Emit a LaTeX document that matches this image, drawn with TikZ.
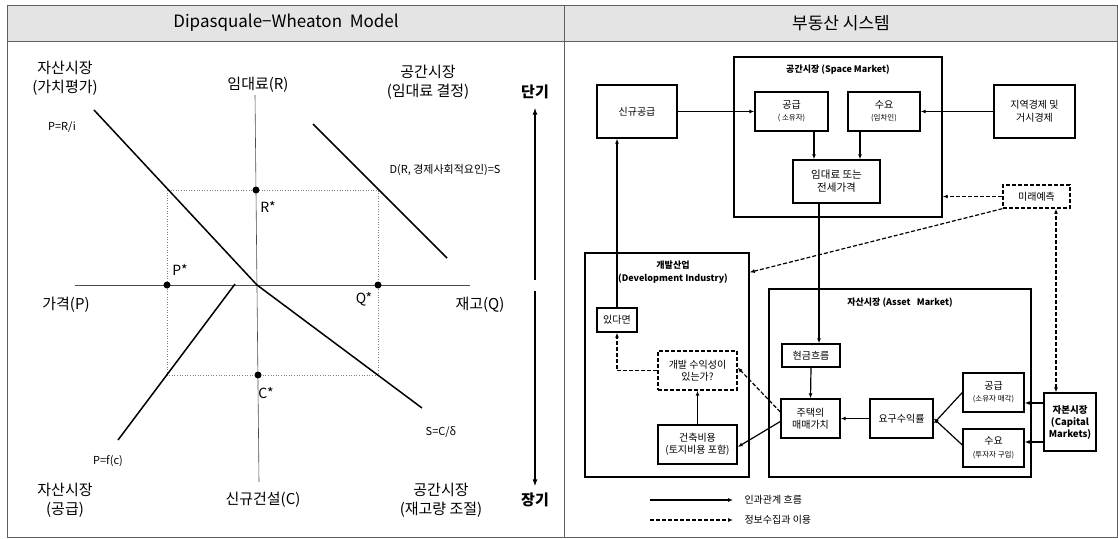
\documentclass[tikz,border=0pt]{standalone}
\usepackage{fontspec}
\setmainfont{Noto Sans CJK KR}
\usetikzlibrary{arrows.meta,positioning}
\definecolor{hdrgray}{RGB}{228,228,228}
\definecolor{framegray}{RGB}{95,95,95}
\tikzset{
  box/.style={draw, line width=1.4pt, align=center, inner sep=1pt, font=\fontsize{10}{12.5}\selectfont},
  dbox/.style={box, dash pattern=on 4pt off 2pt},
  frame/.style={draw, line width=1.4pt, inner sep=0pt},
  ttl/.style={font=\bfseries\fontsize{9}{12}\selectfont, align=center},
  arr/.style={-{Latex[length=5pt,width=4pt]}, line width=1.2pt},
  darr/.style={arr, dash pattern=on 4pt off 2pt},
  big/.style={font=\fontsize{15}{19}\selectfont, align=center},
  small/.style={font=\fontsize{11}{13}\selectfont},
  starlbl/.style={font=\fontsize{14}{16}\selectfont},
  curve/.style={line width=1.5pt},
  axis/.style={gray!60!black, line width=0.6pt},
  dot/.style={circle, fill, inner sep=0pt, minimum size=7pt},
}
\newcommand{\subtxt}[1]{{\fontsize{7.5}{9}\selectfont #1}}

\begin{document}
\begin{tikzpicture}[x=1pt, y=-1pt]
 \useasboundingbox (0,0) rectangle (1118,538);
 % frame and headers
 \fill[hdrgray] (7,5) rectangle (1117,41);
 \draw[framegray, line width=0.8pt] (7,5) rectangle (1117,537);
 \draw[framegray, line width=0.8pt] (7,41) -- (1117,41);
 \draw[framegray, line width=0.8pt] (564,5) -- (564,537);
 \node[font=\fontsize{17}{20}\selectfont] (ltitle) at (286,23) {Dipasquale−Wheaton\ \ Model};
 \node[font=\fontsize{17}{20}\selectfont] (rtitle) at (841,23) {부동산\ 시스템};

 % ---- left: four quadrant model
 \draw[axis] (255,95) -- (259,482);
 \draw[axis] (75,285) -- (470,285);
 \draw[gray, dotted, line width=0.6pt] (167,190) rectangle (378,375);
 \draw[curve] (94,110) -- (257,285) -- (422,408);
 \draw[curve] (313,124) -- (447,258);
 \draw[curve] (235,284) -- (118,440);
 \node[dot] (rstar) at (256,190) {};
 \node[dot] (pstar) at (167,285) {};
 \node[dot] (qstar) at (378,285) {};
 \node[dot] (cstar) at (258,375) {};
 \node[starlbl] (rlbl) at (268,207) {R*};
 \node[starlbl] (plbl) at (180,270) {P*};
 \node[starlbl] (qlbl) at (364,299) {Q*};
 \node[starlbl] (clbl) at (266,393) {C*};
 \node[big] (assetval) at (65,78) {자산시장\\(가치평가)};
 \node[big] (rentax) at (258,85) {임대료(R)};
 \node[big] (spacerent) at (428,82) {공간시장\\(임대료 결정)};
 \node[big] (priceax) at (66,305) {가격(P)};
 \node[big] (stockax) at (480,305) {재고(Q)};
 \node[big] (assetsup) at (65,500) {자산시장\\(공급)};
 \node[big] (constax) at (263,500) {신규건설(C)};
 \node[big] (spacestock) at (441,500) {공간시장\\(재고량 조절)};
 \node[small] (preq) at (62,127) {P=R/i};
 \node[small] (dreq) at (445,170) {D(R, 경제사회적요인)=S};
 \node[small] (sreq) at (441,432) {S=C/δ};
 \node[small] (pfc) at (108,461) {P=f(c)};
 \node[big, font=\bfseries\fontsize{15}{19}\selectfont] (shortrun) at (535,92) {단기};
 \node[big, font=\bfseries\fontsize{15}{19}\selectfont] (longrun) at (535,500) {장기};
 \coordinate (mid) at (535,285);
 \draw[-{Latex[length=7pt,width=5pt]}, line width=1.5pt] ([yshift=5]mid) -- ([yshift=-5]shortrun.south);
 \draw[-{Latex[length=7pt,width=5pt]}, line width=1.5pt] ([yshift=-6]mid) -- ([yshift=3]longrun.north);

 % ---- right: real estate system
 \node[frame, minimum width=208, minimum height=160] (space) at (838,137) {};
 \node[ttl] (spacettl) at (838,70) {공간시장 (Space Market)};
 \node[frame, minimum width=164, minimum height=224] (dev) at (667,365) {};
 \node[ttl, font=\bfseries\fontsize{9}{13}\selectfont] (devttl) at (673,272) {개발산업\\(Development Industry)};
 \node[frame, minimum width=262, minimum height=188] (asset) at (900,383) {};
 \node[ttl] (assetttl) at (900,303) {자산시장 (Asset\ \ \ Market)};

 \node[box, minimum width=80, minimum height=53] (newsup) at (637,111.5) {신규공급};
 \node[box, minimum width=73, minimum height=39] (ssup) at (791.5,111.5) {공급\\\subtxt{( 소유자)}};
 \node[box, minimum width=72, minimum height=39] (sdem) at (884,111.5) {수요\\\subtxt{(임차인)}};
 \node[box, minimum width=87, minimum height=43, font=\fontsize{10.5}{13}\selectfont] (rent) at (836.5,181.5) {임대료 또는\\전세가격};
 \node[box, minimum width=81, minimum height=53] (macro) at (1034.5,111.5) {지역경제 및\\거시경제};
 \node[dbox, minimum width=67, minimum height=23] (fcst) at (1036.5,196.5) {미래예측};
 \node[box, minimum width=40, minimum height=24] (iss) at (617,320) {있다면};
 \node[dbox, minimum width=79, minimum height=39] (prof) at (697.5,370.5) {개발 수익성이\\있는가?};
 \node[box, minimum width=79, minimum height=39] (cost) at (697.5,444.5) {건축비용\\(토지비용 포함)};
 \node[box, minimum width=58, minimum height=23] (cash) at (811,355.5) {현금흐름};
 \node[box, minimum width=59, minimum height=39] (house) at (810.5,418.5) {주택의\\매매가치};
 \node[box, minimum width=63, minimum height=39] (req) at (901.5,418.5) {요구수익률};
 \node[box, minimum width=61, minimum height=39] (asup) at (993.5,392.5) {공급\\\subtxt{(소유자 매각)}};
 \node[box, minimum width=61, minimum height=38] (adem) at (993.5,448) {수요\\\subtxt{(투자자 구입)}};
 \node[box, minimum width=52, minimum height=58, font=\bfseries\fontsize{9.5}{12}\selectfont] (cap) at (1070,422) {자본시장\\(Capital\\Markets)};

 % causal flows
 \draw[arr] (newsup.east) -- (ssup.west);
 \draw[arr] (macro.west) -- (sdem.east);
 \draw[arr] ([xshift=-22.5]rent.north |- ssup.south) -- ([xshift=-22.5]rent.north);
 \draw[arr] ([xshift=23.5]rent.north |- sdem.south) -- ([xshift=23.5]rent.north);
 \draw[arr] ([xshift=8]cash.north |- rent.south) -- ([xshift=8]cash.north);
 \draw[arr] (iss.north) -- (iss.north |- newsup.south);
 \draw[arr] (cost.north) -- (prof.south);
 \draw[arr] ([yshift=-3]house.west) -- ([yshift=-2.5]cost.east);
 \draw[arr] (cash.south) -- (house.north);
 \draw[arr] (req.west) -- (house.east);
 \draw[arr] (asup.west) -- ([yshift=-5]req.east);
 \draw[arr] ([yshift=3]adem.west) -- (req.east);
 \coordinate (capsup) at ([yshift=-10.5]asup.east);
 \coordinate (capdem) at ([yshift=6]adem.east);
 \draw[arr] (capsup -| cap.west) -- (capsup);
 \draw[arr] (capdem -| cap.west) -- (capdem);
 % information flows
 \draw[darr] (prof.west) -| (iss.south);
 \draw[darr] ([yshift=6.5]house.west) -- ([yshift=3]prof.east);
 \draw[darr] (fcst.west) -- (fcst.west -| space.east);
 \draw[darr] (fcst.south west) -- ([yshift=-20]dev.north east);
 \draw[darr, {Latex[length=5pt,width=4pt]}-{Latex[length=5pt,width=4pt]}] ([xshift=-14]cap.north) -- ([xshift=-14]cap.north |- fcst.south);

 % legend
 \node[anchor=west, font=\fontsize{10}{12}\selectfont] (lgsolid) at (741,500) {인과관계 흐름};
 \node[anchor=west, font=\fontsize{10}{12}\selectfont] (lgdash) at (741,520) {정보수집과 이용};
 \coordinate (lgs) at (650,500);
 \coordinate (lgd) at (650,520);
 \draw[arr] (lgs) -- ([xshift=-8]lgsolid.west);
 \draw[darr] (lgd) -- ([xshift=-8]lgdash.west);
\end{tikzpicture}
\end{document}
